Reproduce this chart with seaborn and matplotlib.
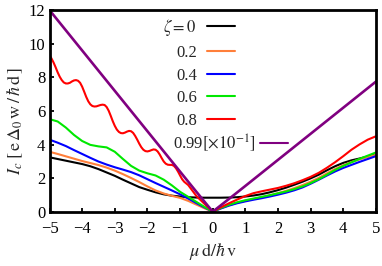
import numpy as np
import pandas as pd
import matplotlib
matplotlib.use("Agg")
import matplotlib.pyplot as plt
import seaborn as sns

# ---------------- data ----------------
x_grid = np.linspace(-5, 5, 41)

black = [3.25, 3.15, 3.05, 2.95, 2.85, 2.72, 2.55, 2.35, 2.15, 1.92, 1.70, 1.48, 1.32, 1.17, 1.05, 0.97, 0.92, 0.88, 0.86, 0.85,
         0.85,
         0.85, 0.86, 0.88, 0.92, 0.98, 1.06, 1.17, 1.30, 1.45, 1.62, 1.80, 2.00, 2.22, 2.48, 2.72, 2.92, 3.07, 3.18, 3.30, 3.42]
orange = [3.58, 3.45, 3.31, 3.17, 3.03, 2.91, 2.79, 2.64, 2.46, 2.25, 2.02, 1.78, 1.52, 1.28, 1.10, 0.96, 0.84, 0.66, 0.44, 0.22,
          0.02,
          0.22, 0.40, 0.55, 0.67, 0.77, 0.87, 0.99, 1.12, 1.26, 1.42, 1.60, 1.80, 2.03, 2.30, 2.56, 2.78, 2.97, 3.13, 3.27, 3.40]
blue = [4.30, 4.12, 3.92, 3.68, 3.45, 3.22, 3.00, 2.82, 2.66, 2.52, 2.37, 2.18, 1.95, 1.72, 1.50, 1.28, 1.05, 0.80, 0.53, 0.27,
        0.02,
        0.21, 0.38, 0.52, 0.63, 0.73, 0.82, 0.92, 1.03, 1.15, 1.29, 1.46, 1.68, 1.92, 2.17, 2.41, 2.62, 2.80, 2.98, 3.15, 3.32]
green = [5.52, 5.38, 5.02, 4.58, 4.22, 3.99, 3.90, 3.84, 3.58, 3.15, 2.74, 2.46, 2.30, 2.17, 1.92, 1.58, 1.20, 0.90, 0.60, 0.30,
         0.02,
         0.24, 0.43, 0.58, 0.70, 0.80, 0.90, 1.00, 1.11, 1.22, 1.36, 1.52, 1.72, 1.95, 2.22, 2.50, 2.74, 2.95, 3.16, 3.35, 3.54]

red_x = list(np.linspace(-5, -0.75, 69)) + list(np.linspace(-0.5, 5, 23))
red = [9.32, 9.12, 8.88, 8.60, 8.30, 8.04, 7.84, 7.70, 7.64, 7.64, 7.68, 7.76, 7.82, 7.84, 7.80, 7.68, 7.45,
       7.15, 6.84, 6.58, 6.40, 6.30, 6.27, 6.28, 6.32, 6.36, 6.38, 6.36, 6.24, 6.02, 5.72, 5.40, 5.12,
       4.90, 4.76, 4.69, 4.68, 4.72, 4.78, 4.82, 4.80, 4.70, 4.52, 4.30, 4.06, 3.85, 3.70, 3.62, 3.60,
       3.63, 3.68, 3.72, 3.70, 3.60, 3.42, 3.20, 3.00, 2.87, 2.81, 2.80, 2.80, 2.74, 2.60, 2.40, 2.17,
       1.95, 1.80, 1.70, 1.60,
       0.95, 0.48, 0.02,
       0.28, 0.52, 0.74, 0.95, 1.12, 1.23, 1.33, 1.43, 1.56, 1.71, 1.89, 2.09, 2.33, 2.63, 2.96, 3.32, 3.70, 4.02, 4.30, 4.50]

purple_x = [-5, -4, -3, -2, -1, -0.5, 0, 0.5, 1, 2, 3, 4, 5]
purple = [12.0, 9.6, 7.2, 4.8, 2.4, 1.2, 0.02, 0.78, 1.55, 3.10, 4.65, 6.20, 7.75]

labels = [r"$\zeta=0\ \,$", "0.2", "0.4", "0.6", "0.8", r"0.99$\left[\times10^{-1}\right]$"]
colors = ["#000000", "#ff7f3a", "#0000ff", "#00e800", "#ff0000", "#800080"]

x_ticks = [-5, -4, -3, -2, -1, 0, 1, 2, 3, 4, 5]
y_ticks = [0, 2, 4, 6, 8, 10, 12]

# ---------------- style ----------------
sns.set_theme(style="ticks")
plt.rcParams["font.family"] = ["Liberation Serif", "DejaVu Serif"]
plt.rcParams["mathtext.fontset"] = "stix"
plt.rcParams["axes.unicode_minus"] = True

fig = plt.figure(figsize=(3.82, 2.66), dpi=100)
ax = fig.add_axes([0.1296, 0.203, 0.8545, 0.759])

series = [
    (x_grid, black),
    (x_grid, orange),
    (x_grid, blue),
    (x_grid, green),
    (red_x, red),
    (purple_x, purple),
]
for (xs, ys), c in zip(series, colors):
    df = pd.DataFrame({"x": xs, "y": ys})
    sns.lineplot(data=df, x="x", y="y", color=c, lw=1.5, ax=ax,
                 estimator=None, sort=False, legend=False)
ax.lines[-1].set_linewidth(1.9)

ax.set_xlim(-5, 5)
ax.set_ylim(0, 12)
ax.set_xticks(x_ticks)
ax.set_yticks(y_ticks)
ax.tick_params(axis="both", direction="in", length=3, width=1.3, labelsize=12,
               colors="black")
ax.tick_params(axis="x", pad=6.5)
ax.tick_params(axis="y", pad=3)
for s in ax.spines.values():
    s.set_linewidth(2.0)
    s.set_color("black")

ax.set_xlabel(r"$\mu\,\mathrm{d}/\hbar\,\mathrm{v}$", fontsize=13)
ax.set_ylabel(r"$I_c\;[\,\mathrm{e}\,\Delta_0\,\mathrm{w}\,/\,\hbar\,\mathrm{d}\,]$", fontsize=13)
ax.xaxis.set_label_coords(0.5, -0.145)
ax.yaxis.set_label_coords(-0.074, 0.45)

lines = ax.lines
leg1 = ax.legend(handles=lines[:5], labels=labels[:5], loc="upper right",
                 bbox_to_anchor=(0.568, 0.965), frameon=False, markerfirst=False,
                 handlelength=1.68, handletextpad=0.6, labelspacing=0.40,
                 borderpad=0, borderaxespad=0, fontsize=12)
ax.add_artist(leg1)
leg2 = ax.legend(handles=[lines[5]], labels=[labels[5]], loc="center right",
                 bbox_to_anchor=(0.730, 0.340), frameon=False, markerfirst=False,
                 handlelength=1.68, handletextpad=0.25,
                 borderpad=0, borderaxespad=0, fontsize=12)
for h in leg2.legend_handles:
    h.set_linewidth(1.5)

fig.savefig("out.png", dpi=100)
